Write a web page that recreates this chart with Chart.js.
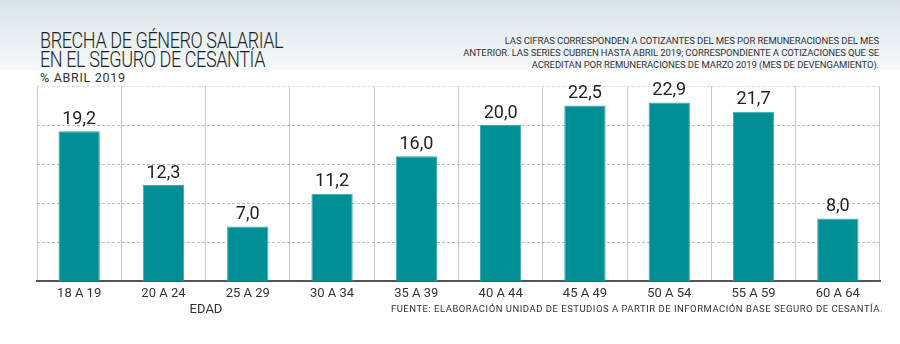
<!DOCTYPE html>
<html>
<head>
<meta charset="utf-8">
<script src="https://cdn.jsdelivr.net/npm/chart.js@4"></script>
<style>
  html, body { margin: 0; padding: 0; }
  body {
    width: 900px; height: 344px; position: relative; overflow: hidden;
    background: linear-gradient(to bottom, #d8e2e7 0px, #eef3f5 50px, #f7f9fa 70px, #ffffff 71px);
    font-family: Roboto, "Noto Sans", sans-serif;
  }
  #wrap { position: absolute; left: 0; top: 0; width: 900px; height: 344px; }
  .title {
    position: absolute; left: 40px; top: 31px; color: #1e1e1e;
    font-family: Roboto, sans-serif; font-weight: 300;
    font-size: 22px; line-height: 19px; letter-spacing: -0.5px;
    transform: scaleX(0.82); transform-origin: left top; white-space: nowrap;
  }
  .sub { position: absolute; left: 40px; top: 70px; font-size: 12.5px; color: #333; letter-spacing: 0.7px; }
  .note {
    position: absolute; right: 21px; top: 35px; text-align: right;
    font-size: 9.5px; line-height: 12px; color: #333; letter-spacing: -0.1px;
  }
  .axis-name { position: absolute; left: 206px; top: 301px; transform: translateX(-50%); font-size: 13px; color: #333; }
  .source { position: absolute; right: 17px; top: 303px; font-size: 9.5px; color: #333; letter-spacing: 0.5px; }
</style>
</head>
<body>
<div class="title">BRECHA DE GÉNERO SALARIAL<br>EN EL SEGURO DE CESANTÍA</div>
<div class="sub">% ABRIL 2019</div>
<div class="note">LAS CIFRAS CORRESPONDEN A COTIZANTES DEL MES POR REMUNERACIONES DEL MES<br>ANTERIOR. LAS SERIES CUBREN HASTA ABRIL 2019; CORRESPONDIENTE A COTIZACIONES QUE SE<br>ACREDITAN POR REMUNERACIONES DE MARZO 2019 (MES DE DEVENGAMIENTO).</div>
<div id="wrap"><canvas id="chart" width="900" height="344"></canvas></div>
<div class="axis-name">EDAD</div>
<div class="source">FUENTE: ELABORACIÓN UNIDAD DE ESTUDIOS A PARTIR DE INFORMACIÓN BASE SEGURO DE CESANTÍA.</div>

<script>
// Age groups and wage gap (%)
const ageGroups = ["18 A 19", "20 A 24", "25 A 29", "30 A 34", "35 A 39", "40 A 44", "45 A 49", "50 A 54", "55 A 59", "60 A 64"];
const gapValues = [19.2, 12.3, 7.0, 11.2, 16.0, 20.0, 22.5, 22.9, 21.7, 8.0];
const yTicks = [0, 5, 10, 15, 20, 25];

// draw the value above each bar, with decimal comma
const valueLabels = {
  id: "valueLabels",
  afterDatasetsDraw(chart) {
    const ctx = chart.ctx;
    const meta = chart.getDatasetMeta(0);
    ctx.save();
    ctx.font = "18px Roboto";
    ctx.fillStyle = "#222";
    ctx.textAlign = "center";
    ctx.textBaseline = "bottom";
    meta.data.forEach((bar, i) => {
      ctx.fillText(gapValues[i].toFixed(1).replace(".", ","), bar.x, bar.y - 3);
    });
    ctx.restore();
  }
};

new Chart(document.getElementById("chart"), {
  type: "bar",
  data: {
    labels: ageGroups,
    datasets: [{
      data: gapValues,
      backgroundColor: "#008f95",
      borderColor: "#3aa9ad",
      borderWidth: 1,
      categoryPercentage: 1,
      barPercentage: 0.49
    }]
  },
  options: {
    responsive: false,
    animation: false,
    layout: { padding: { left: 37, right: 20, top: 86, bottom: 0 } },
    plugins: { legend: { display: false }, tooltip: { enabled: false } },
    scales: {
      x: {
        afterFit: s => { s.height = 63; },
        grid: { offset: true, drawTicks: false, color: "#c8c8c8", lineWidth: 1 },
        border: { display: true, color: "#555", width: 2 },
        ticks: { padding: 5, color: "#333", font: { family: "Roboto", size: 13 } }
      },
      y: {
        min: 0, max: 25,
        afterFit: s => { s.width = 0; },
        afterBuildTicks: s => { s.ticks = yTicks.map(v => ({ value: v })); },
        ticks: { display: false },
        border: { display: false, dash: [3, 2] },
        grid: {
          drawTicks: false,
          color: ctx => ctx.tick && ctx.tick.value === 25 ? "#dcdcdc" : "#bdbdbd",
          lineWidth: ctx => ctx.tick && ctx.tick.value === 0 ? 0 : 1
        }
      }
    }
  },
  plugins: [valueLabels]
});
</script>
</body>
</html>
